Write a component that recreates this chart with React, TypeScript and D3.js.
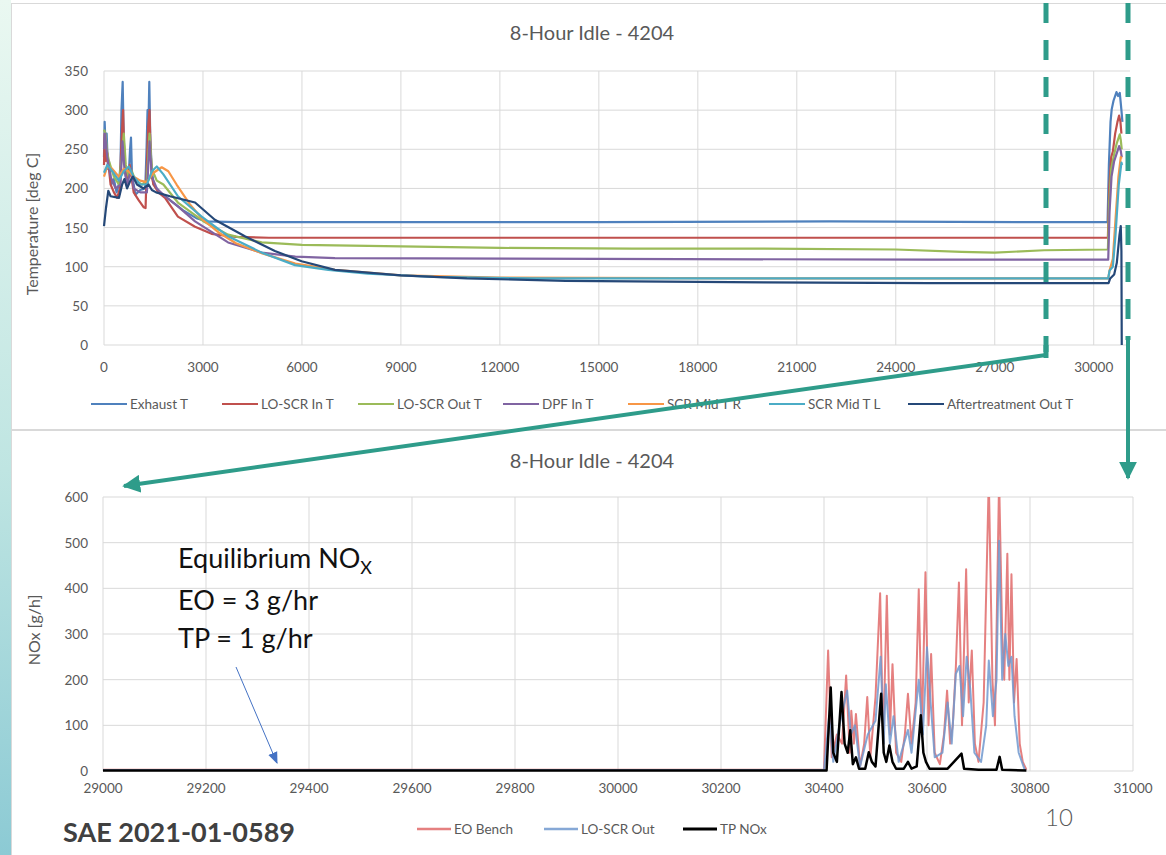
import * as d3 from "d3";

type Pt = [number, number];

// ---- top chart: temperatures over the 8 hour idle ----
const tempTicksX = [0, 3000, 6000, 9000, 12000, 15000, 18000, 21000, 24000, 27000, 30000];
const tempTicksY = [0, 50, 100, 150, 200, 250, 300, 350];

const exhaustT: Pt[] = [
  [0, 240], [20, 285], [50, 250], [80, 270], [120, 225], [150, 235], [220, 205], [300, 212],
  [380, 195], [450, 205], [500, 230], [530, 300], [566, 336], [585, 290], [610, 250], [660, 215],
  [720, 205], [760, 225], [790, 250], [818, 265], [850, 215], [900, 205], [950, 192], [1100, 198],
  [1250, 200], [1290, 250], [1320, 300], [1350, 285], [1373, 336], [1400, 270], [1440, 230],
  [1500, 205], [1700, 195], [2000, 185], [2400, 172], [2800, 162], [3100, 158], [4000, 157],
  [8000, 157], [15000, 157], [22000, 158], [28000, 157], [30420, 157], [30460, 230], [30510, 285],
  [30545, 301], [30600, 312], [30690, 323], [30740, 318], [30790, 322], [30840, 300], [30870, 285],
];
const loScrInT: Pt[] = [
  [0, 230], [20, 270], [60, 235], [100, 245], [200, 205], [300, 195], [400, 188], [480, 200],
  [520, 250], [560, 285], [580, 300], [600, 260], [640, 225], [700, 205], [780, 230], [830, 215],
  [900, 195], [1050, 185], [1200, 176], [1260, 175], [1300, 230], [1340, 280], [1380, 300],
  [1410, 250], [1450, 215], [1500, 205], [1650, 195], [1850, 188], [2240, 164], [2760, 151],
  [3260, 142], [4000, 138], [5000, 137], [12000, 137], [20000, 137], [30430, 137], [30470, 200],
  [30530, 240], [30580, 247], [30650, 270], [30720, 285], [30770, 293], [30810, 285], [30840, 270],
];
const loScrOutT: Pt[] = [
  [0, 275], [40, 270], [100, 245], [150, 235], [300, 215], [450, 205], [540, 240], [600, 270],
  [660, 230], [750, 215], [820, 225], [950, 210], [1150, 205], [1300, 210], [1380, 270], [1450, 225],
  [1600, 210], [1800, 205], [2240, 182], [3050, 157], [3760, 141], [4780, 131], [6000, 128],
  [9000, 126], [12000, 124], [16000, 123], [20000, 123], [24000, 122], [26000, 119], [27000, 118],
  [28500, 121], [30430, 122], [30470, 180], [30530, 225], [30600, 240], [30700, 258], [30790, 269],
  [30820, 262], [30850, 250],
];
const dpfInT: Pt[] = [
  [0, 250], [30, 270], [100, 240], [200, 215], [350, 200], [500, 205], [560, 260], [620, 225],
  [700, 205], [820, 225], [900, 200], [1100, 195], [1300, 195], [1380, 260], [1450, 215], [1600, 200],
  [1850, 190], [2240, 177], [2760, 158], [3760, 131], [4780, 118], [5800, 113], [7000, 111],
  [15000, 110], [25000, 109], [30440, 109], [30480, 170], [30540, 215], [30620, 235], [30700, 245],
  [30770, 254], [30820, 248], [30850, 240],
];
const scrMidTR: Pt[] = [
  [0, 215], [100, 228], [250, 225], [450, 215], [600, 225], [750, 222], [900, 215], [1100, 210],
  [1300, 208], [1500, 220], [1750, 227], [1950, 222], [2200, 205], [2600, 180], [3000, 160],
  [3500, 143], [4000, 130], [4800, 117], [5800, 104], [7000, 96], [9000, 89], [12000, 86],
  [20000, 85], [30440, 85], [30480, 95], [30580, 110], [30660, 160], [30750, 215], [30820, 240],
  [30850, 238],
];
const scrMidTL: Pt[] = [
  [0, 220], [100, 230], [250, 222], [450, 210], [600, 222], [750, 228], [900, 215], [1100, 205],
  [1300, 205], [1450, 222], [1600, 228], [1800, 218], [2240, 190], [2960, 164], [3760, 139],
  [4780, 118], [5790, 102], [6800, 96], [8000, 91], [10000, 87], [13000, 85], [20000, 85],
  [30440, 85], [30480, 95], [30580, 100], [30660, 140], [30760, 205], [30840, 233], [30860, 230],
];
const aftertreatmentOutT: Pt[] = [
  [0, 152], [60, 175], [130, 197], [200, 190], [455, 188], [550, 205], [620, 212], [700, 200],
  [800, 210], [880, 215], [1000, 205], [1200, 200], [1350, 205], [1450, 198], [1580, 195],
  [2000, 190], [2760, 182], [3360, 160], [4270, 139], [5180, 120], [5990, 107], [7000, 96],
  [9000, 89], [11000, 85], [14000, 82], [20000, 80], [25000, 79], [30450, 79], [30500, 85],
  [30620, 90], [30700, 105], [30780, 140], [30820, 152], [30840, 120], [30850, 0],
];

const tempSeries = [
  { name: "Exhaust T", color: "#4F81BD", data: exhaustT },
  { name: "LO-SCR In T", color: "#C0504D", data: loScrInT },
  { name: "LO-SCR Out T", color: "#9BBB59", data: loScrOutT },
  { name: "DPF In T", color: "#8064A2", data: dpfInT },
  { name: "SCR Mid T R", color: "#F79646", data: scrMidTR },
  { name: "SCR Mid T L", color: "#4BACC6", data: scrMidTL },
  { name: "Aftertreatment Out T", color: "#254878", data: aftertreatmentOutT },
];
const tempLegendX = [91, 222, 358, 503, 628, 769, 908];

// ---- bottom chart: NOx at the end of the test ----
const noxTicksX = [29000, 29200, 29400, 29600, 29800, 30000, 30200, 30400, 30600, 30800, 31000];
const noxTicksY = [0, 100, 200, 300, 400, 500, 600];

const eoBench: Pt[] = [
  [29000, 3], [30400, 3], [30408, 264], [30415, 30], [30425, 80], [30435, 60], [30443, 209],
  [30450, 40], [30453, 132], [30458, 60], [30462, 125], [30470, 10], [30478, 60], [30484, 162],
  [30490, 30], [30500, 162], [30509, 389], [30515, 60], [30522, 384], [30528, 80], [30533, 234],
  [30540, 40], [30550, 20], [30557, 80], [30563, 169], [30570, 60], [30578, 150], [30584, 398],
  [30590, 80], [30597, 435], [30603, 100], [30608, 256], [30615, 40], [30625, 15], [30633, 80],
  [30639, 176], [30645, 60], [30650, 100], [30656, 227], [30662, 413], [30668, 100], [30676, 442],
  [30681, 150], [30687, 264], [30693, 60], [30700, 20], [30710, 150], [30720, 640], [30727, 200],
  [30732, 100], [30740, 640], [30746, 300], [30750, 200], [30756, 476], [30760, 200], [30764, 431],
  [30769, 150], [30774, 245], [30780, 60], [30786, 20], [30793, 3],
];
const loScrOut: Pt[] = [
  [29000, 2], [30400, 2], [30410, 120], [30418, 20], [30430, 100], [30445, 176], [30452, 80],
  [30460, 100], [30470, 10], [30485, 80], [30500, 110], [30510, 250], [30516, 60], [30520, 190],
  [30528, 60], [30535, 120], [30545, 20], [30563, 90], [30570, 40], [30584, 200], [30592, 80],
  [30600, 271], [30607, 150], [30615, 30], [30630, 40], [30640, 150], [30648, 60], [30656, 213],
  [30663, 230], [30670, 120], [30677, 250], [30684, 180], [30692, 40], [30705, 20], [30715, 100],
  [30720, 242], [30728, 120], [30735, 200], [30740, 504], [30746, 200], [30752, 300], [30758, 230],
  [30764, 250], [30770, 120], [30778, 40], [30790, 2],
];
const tpNox: Pt[] = [
  [29000, 1], [30405, 1], [30413, 183], [30418, 40], [30425, 20], [30434, 173], [30440, 60],
  [30446, 40], [30451, 89], [30456, 15], [30462, 30], [30468, 5], [30480, 5], [30487, 41],
  [30493, 20], [30500, 10], [30511, 169], [30516, 40], [30521, 20], [30527, 56], [30533, 20],
  [30540, 5], [30555, 5], [30563, 20], [30570, 5], [30580, 10], [30588, 122], [30593, 40],
  [30598, 20], [30605, 5], [30640, 5], [30667, 38], [30672, 5], [30700, 3], [30735, 3],
  [30741, 31], [30746, 3], [30793, 1],
];

const noxSeries = [
  { name: "EO Bench", color: "#E06A6A", width: 2, opacity: 0.85, data: eoBench },
  { name: "LO-SCR Out", color: "#7199CF", width: 2, opacity: 0.85, data: loScrOut },
  { name: "TP NOx", color: "#000000", width: 2.5, opacity: 1, data: tpNox },
];
const noxLegendX = [417, 544, 683];

const FONT = "Lato, 'Open Sans', sans-serif";
const TEAL = "#2E9C8A";
const GRID = "#D9D9D9";
const LABEL = "#595959";

export default function App() {
  // top plot box
  const t = { left: 104, right: 1130, top: 71, bottom: 345 };
  const tx = d3.scaleLinear().domain([0, 31100]).range([t.left, t.right]);
  const ty = d3.scaleLinear().domain([0, 350]).range([t.bottom, t.top]);
  const tLine = d3.line<Pt>().x((d) => tx(d[0])).y((d) => ty(d[1]));

  // bottom plot box
  const b = { left: 103, right: 1133, top: 497, bottom: 771 };
  const bx = d3.scaleLinear().domain([29000, 31000]).range([b.left, b.right]);
  const by = d3.scaleLinear().domain([0, 600]).range([b.bottom, b.top]);
  const bLine = d3.line<Pt>().x((d) => bx(d[0])).y((d) => by(d[1]));

  return (
    <svg
      width={1166}
      height={855}
      style={{ position: "fixed", left: 0, top: 0, background: "#fff" }}
      fontFamily={FONT}
    >
      <defs>
        <linearGradient id="strip" x1="0" y1="0" x2="0" y2="1">
          <stop offset="0%" stopColor="#EAF8F1" />
          <stop offset="55%" stopColor="#BFE5E2" />
          <stop offset="100%" stopColor="#8CCAD4" />
        </linearGradient>
        <clipPath id="noxClip">
          <rect x={b.left} y={b.top} width={b.right - b.left} height={b.bottom - b.top + 3} />
        </clipPath>
        <marker id="tealHead" viewBox="0 0 10 10" refX="9" refY="5" markerWidth="4.5" markerHeight="4.5" orient="auto">
          <path d="M0,0 L10,5 L0,10 z" fill={TEAL} />
        </marker>
        <marker id="blueHead" viewBox="0 0 10 10" refX="9" refY="5" markerWidth="12" markerHeight="12" markerUnits="userSpaceOnUse" orient="auto">
          <path d="M0,1 L10,5 L0,9 z" fill="#4472C4" />
        </marker>
      </defs>

      {/* slide background */}
      <rect x={0} y={0} width={11} height={855} fill="url(#strip)" />
      <rect x={11.5} y={3.5} width={1160} height={426} fill="#fff" stroke={GRID} />
      <rect x={11.5} y={430.5} width={1160} height={430} fill="#fff" stroke={GRID} />

      {/* ---------- top chart ---------- */}
      <text x={592} y={40} textAnchor="middle" fontSize={20} fill={LABEL}>
        8-Hour Idle - 4204
      </text>
      {tempTicksY.map((v) => (
        <g key={"ty" + v}>
          <line x1={t.left} x2={t.right} y1={ty(v)} y2={ty(v)} stroke={GRID} />
          <text x={88} y={ty(v) + 5} textAnchor="end" fontSize={13.5} fill={LABEL}>
            {v}
          </text>
        </g>
      ))}
      {tempTicksX.map((v) => (
        <g key={"tx" + v}>
          <line x1={tx(v)} x2={tx(v)} y1={t.top} y2={t.bottom} stroke={GRID} />
          <text x={tx(v)} y={372} textAnchor="middle" fontSize={13.5} fill={LABEL}>
            {v}
          </text>
        </g>
      ))}
      <text
        transform={`translate(38,${(t.top + t.bottom) / 2 + 16}) rotate(-90)`}
        textAnchor="middle"
        fontSize={16}
        fill={LABEL}
      >
        Temperature [deg C]
      </text>
      {tempSeries.map((s) => (
        <path key={s.name} d={tLine(s.data) ?? ""} fill="none" stroke={s.color} strokeWidth={2.2} strokeLinejoin="round" />
      ))}
      {tempSeries.map((s, i) => (
        <g key={"lg" + s.name}>
          <line x1={tempLegendX[i]} x2={tempLegendX[i] + 36} y1={404} y2={404} stroke={s.color} strokeWidth={2} />
          <text x={tempLegendX[i] + 39} y={408.5} fontSize={13.5} fill={LABEL}>
            {s.name}
          </text>
        </g>
      ))}

      {/* ---------- bottom chart ---------- */}
      <text x={592} y={468} textAnchor="middle" fontSize={20} fill={LABEL}>
        8-Hour Idle - 4204
      </text>
      {noxTicksY.map((v) => (
        <g key={"by" + v}>
          <line x1={b.left} x2={b.right} y1={by(v)} y2={by(v)} stroke={GRID} />
          <text x={88} y={by(v) + 5} textAnchor="end" fontSize={13.5} fill={LABEL}>
            {v}
          </text>
        </g>
      ))}
      {noxTicksX.map((v) => (
        <g key={"bx" + v}>
          <line x1={bx(v)} x2={bx(v)} y1={b.top} y2={b.bottom} stroke={GRID} />
          <text x={bx(v)} y={793} textAnchor="middle" fontSize={13.5} fill={LABEL}>
            {v}
          </text>
        </g>
      ))}
      <text
        transform={`translate(40,630) rotate(-90)`}
        textAnchor="middle"
        fontSize={16}
        fill={LABEL}
      >
        NOx [g/h]
      </text>
      <g clipPath="url(#noxClip)">
        {noxSeries.map((s) => (
          <path
            key={s.name}
            d={bLine(s.data) ?? ""}
            fill="none"
            stroke={s.color}
            strokeWidth={s.width}
            strokeOpacity={s.opacity}
            strokeLinejoin="round"
          />
        ))}
      </g>
      {noxSeries.map((s, i) => (
        <g key={"nlg" + s.name}>
          <line x1={noxLegendX[i]} x2={noxLegendX[i] + 34} y1={829} y2={829} stroke={s.color} strokeWidth={s.width + 0.5} strokeOpacity={s.opacity} />
          <text x={noxLegendX[i] + 37} y={833.5} fontSize={13.5} fill={LABEL}>
            {s.name}
          </text>
        </g>
      ))}

      {/* annotation */}
      <text x={178} y={568} fontSize={27} fill="#111">
        Equilibrium NO<tspan fontSize={18} dy={6}>X</tspan>
      </text>
      <text x={178} y={610} fontSize={27} fill="#111">
        EO = 3 g/hr
      </text>
      <text x={178} y={648} fontSize={27} fill="#111">
        TP = 1 g/hr
      </text>
      <line x1={236} y1={667} x2={277} y2={763} stroke="#4472C4" strokeWidth={1} markerEnd="url(#blueHead)" />

      {/* zoom callout lines */}
      <line x1={1046} x2={1046} y1={3} y2={352} stroke={TEAL} strokeWidth={5} strokeDasharray="20 17" />
      <line x1={1128} x2={1128} y1={3} y2={340} stroke={TEAL} strokeWidth={5} strokeDasharray="20 17" />
      <line x1={1046} y1={345} x2={1046} y2={358} stroke={TEAL} strokeWidth={5} />
      <line x1={1046} y1={355} x2={124} y2={486} stroke={TEAL} strokeWidth={4} markerEnd="url(#tealHead)" />
      <line x1={1128} y1={340} x2={1128} y2={478} stroke={TEAL} strokeWidth={4} markerEnd="url(#tealHead)" />

      {/* slide footer */}
      <text x={63} y={842} fontSize={27} fontWeight={700} fill="#404040">
        SAE 2021-01-0589
      </text>
      <text x={1045} y={826} fontSize={24} fill={LABEL} fontWeight={300}>
        10
      </text>
    </svg>
  );
}
